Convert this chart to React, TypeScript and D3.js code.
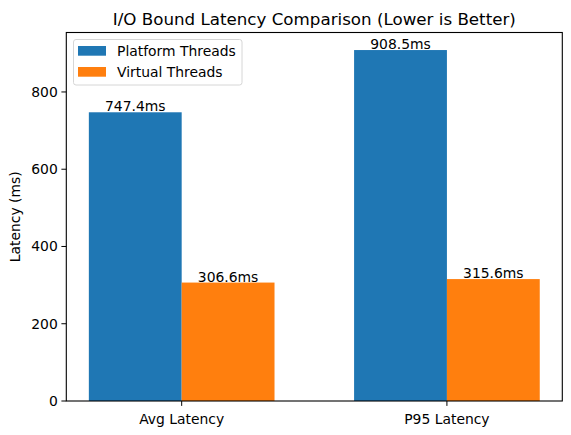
import { useEffect, useRef } from 'react';
import * as d3 from 'd3';

const categories = ['Avg Latency', 'P95 Latency'];
const seriesNames = ['Platform Threads', 'Virtual Threads'];
const platformValues = [747.4, 908.5];
const virtualValues = [306.6, 315.6];
const yTicks = [0, 200, 400, 600, 800];
const colors = ['#1f77b4', '#ff7f0e'];

const W = 571;
const H = 435;
const font = 'DejaVu Sans, sans-serif';

export default function App() {
  const ref = useRef<SVGSVGElement>(null);

  useEffect(() => {
    const svg = d3.select(ref.current);
    svg.selectAll('*').remove();

    const m = { left: 66.3, right: 562.3, top: 32.5, bottom: 401 };
    const barW = 0.35;
    const series = [platformValues, virtualValues];

    const x = d3.scaleLinear().domain([-0.435, 1.435]).range([m.left, m.right]);
    const y = d3
      .scaleLinear()
      .domain([0, d3.max(platformValues.concat(virtualValues)) as number * 1.05])
      .range([m.bottom, m.top]);

    const g = svg.append('g');

    series.forEach((vals, s) => {
      const off = s === 0 ? -barW / 2 : barW / 2;
      g.selectAll(null)
        .data(vals)
        .join('rect')
        .attr('x', (_d, i) => x(i + off - barW / 2))
        .attr('width', x(barW) - x(0))
        .attr('y', (d) => y(d))
        .attr('height', (d) => y(0) - y(d))
        .attr('fill', colors[s]);
      g.selectAll(null)
        .data(vals)
        .join('text')
        .attr('x', (_d, i) => x(i + off))
        .attr('y', (d) => y(d) - 1)
        .attr('text-anchor', 'middle')
        .style('font', `13.9px ${font}`)
        .text((d) => `${d.toFixed(1)}ms`);
    });

    // frame
    svg
      .append('rect')
      .attr('x', m.left)
      .attr('y', m.top)
      .attr('width', m.right - m.left)
      .attr('height', m.bottom - m.top)
      .attr('fill', 'none')
      .attr('stroke', '#000')
      .attr('stroke-width', 1.1);

    // y axis
    const yAxis = svg.append('g').style('font', `13.9px ${font}`);
    yTicks.forEach((t) => {
      yAxis
        .append('line')
        .attr('x1', m.left - 4.9)
        .attr('x2', m.left)
        .attr('y1', y(t))
        .attr('y2', y(t))
        .attr('stroke', '#000');
      yAxis
        .append('text')
        .attr('x', m.left - 8.5)
        .attr('y', y(t))
        .attr('dy', '0.35em')
        .attr('text-anchor', 'end')
        .text(t);
    });

    // x axis
    const xAxis = svg.append('g').style('font', `13.9px ${font}`);
    categories.forEach((c, i) => {
      xAxis
        .append('line')
        .attr('x1', x(i))
        .attr('x2', x(i))
        .attr('y1', m.bottom)
        .attr('y2', m.bottom + 4.9)
        .attr('stroke', '#000');
      xAxis
        .append('text')
        .attr('x', x(i))
        .attr('y', m.bottom + 23)
        .attr('text-anchor', 'middle')
        .text(c);
    });

    svg
      .append('text')
      .attr('transform', `translate(20,${(m.top + m.bottom) / 2}) rotate(-90)`)
      .attr('text-anchor', 'middle')
      .style('font', `13.9px ${font}`)
      .text('Latency (ms)');

    svg
      .append('text')
      .attr('x', (m.left + m.right) / 2)
      .attr('y', m.top - 8)
      .attr('text-anchor', 'middle')
      .style('font', `16.7px ${font}`)
      .text('I/O Bound Latency Comparison (Lower is Better)');

    // legend
    const lg = svg.append('g');
    lg.append('rect')
      .attr('x', 73.5)
      .attr('y', 39.5)
      .attr('width', 168.5)
      .attr('height', 45.5)
      .attr('rx', 2.5)
      .attr('fill', '#fff')
      .attr('fill-opacity', 0.8)
      .attr('stroke', '#d6d6d6');
    seriesNames.forEach((n, i) => {
      const cy = 51 + i * 21;
      lg.append('rect')
        .attr('x', 78)
        .attr('y', cy - 5)
        .attr('width', 28)
        .attr('height', 9.7)
        .attr('fill', colors[i]);
      lg.append('text')
        .attr('x', 117)
        .attr('y', cy)
        .attr('dy', '0.35em')
        .style('font', `13.9px ${font}`)
        .text(n);
    });
  }, []);

  return (
    <svg
      ref={ref}
      width={W}
      height={H}
      style={{ display: 'block', position: 'absolute', left: 0, top: 0, background: '#fff' }}
    />
  );
}
